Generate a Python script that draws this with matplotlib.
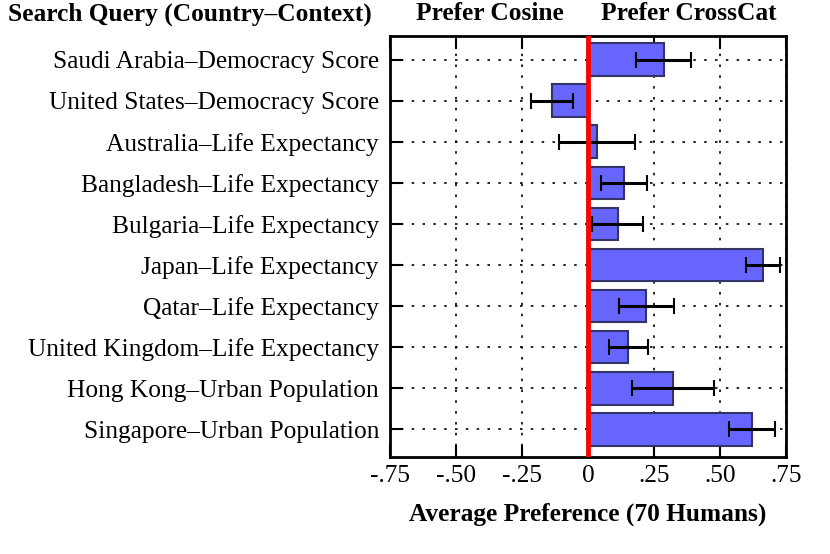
import matplotlib
matplotlib.use("Agg")
import matplotlib.pyplot as plt

queries = [
    "Saudi Arabia\u2013Democracy Score",
    "United States\u2013Democracy Score",
    "Australia\u2013Life Expectancy",
    "Bangladesh\u2013Life Expectancy",
    "Bulgaria\u2013Life Expectancy",
    "Japan\u2013Life Expectancy",
    "Qatar\u2013Life Expectancy",
    "United Kingdom\u2013Life Expectancy",
    "Hong Kong\u2013Urban Population",
    "Singapore\u2013Urban Population",
]
preference = [0.286, -0.136, 0.034, 0.136, 0.112, 0.662, 0.221, 0.153, 0.323, 0.621]
errors = [0.104, 0.080, 0.143, 0.088, 0.098, 0.064, 0.103, 0.075, 0.156, 0.086]
xticks = [-0.75, -0.5, -0.25, 0, 0.25, 0.5, 0.75]
xticklabels = ["-.75", "-.50", "-.25", "0", ".25", ".50", ".75"]

plt.rcParams["font.family"] = ["Liberation Serif", "DejaVu Serif"]
fs = 18.3

fig = plt.figure(figsize=(8.3, 5.54), dpi=100)
ax = fig.add_axes([0.47, 0.175, 0.477, 0.76])

ypos = list(range(len(queries)))
ax.barh(ypos, preference, height=0.8, color="#6666ff", edgecolor="#333366",
        linewidth=1.5, zorder=3)
ax.errorbar(preference, ypos, xerr=errors, fmt="none", ecolor="black",
            elinewidth=2.2, capsize=6, capthick=1.5, zorder=4)
ax.axvline(0, color="red", linewidth=3.5, zorder=5)

ax.set_xlim(-0.75, 0.75)
ax.set_ylim(len(queries) - 1 + 0.68, -0.58)
ax.set_xticks(xticks)
ax.set_xticklabels(xticklabels, fontsize=fs)
ax.set_yticks(ypos)
ax.set_yticklabels(queries, fontsize=fs)
ax.tick_params(axis="x", direction="in", length=9, width=1.5, top=True, pad=6)
ax.tick_params(axis="y", direction="in", length=9, width=1.5, pad=8)
ax.grid(True, color="black", linestyle=(0, (1.5, 5)), linewidth=1.2, zorder=1)
for s in ax.spines.values():
    s.set_linewidth(2)

ax.set_xlabel("Average Preference (70 Humans)", fontsize=fs, fontweight="bold", labelpad=11)

fig.text(0.01, 0.975, "Search Query (Country\u2013Context)", fontsize=fs,
         fontweight="bold", ha="left", va="center")
fig.text(0.59, 0.975, "Prefer Cosine", fontsize=fs, fontweight="bold",
         ha="center", va="center")
fig.text(0.83, 0.975, "Prefer CrossCat", fontsize=fs, fontweight="bold",
         ha="center", va="center")

fig.savefig("out.png", dpi=100)
